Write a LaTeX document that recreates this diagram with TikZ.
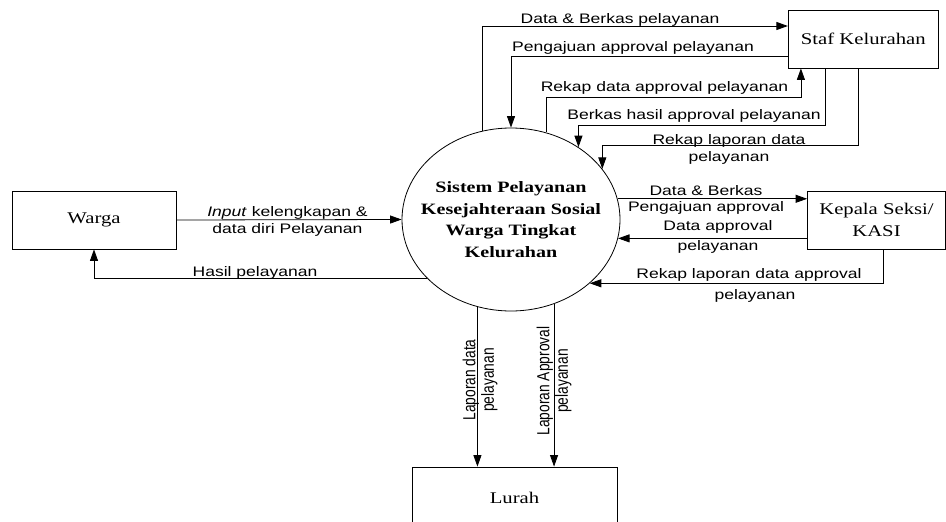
\documentclass[tikz,border=0pt]{standalone}
\usepackage{fontspec}
\usetikzlibrary{arrows.meta,shapes.geometric}
\newfontfamily\entfont{Liberation Serif}[FakeStretch=1.27]
\newfontfamily\lblfont{Liberation Sans}[FakeStretch=1.27]
\newfontfamily\rotfont{Liberation Sans}

\begin{document}
\begin{tikzpicture}[x=1pt,y=-1pt,
  entity/.style={draw,line width=0.8pt,minimum height=58pt,inner sep=0pt,align=center,
    font=\entfont\fontsize{16.3}{21.5}\selectfont},
  proses/.style={draw,ellipse,line width=0.8pt,minimum width=218pt,minimum height=183pt,
    inner xsep=-20pt,inner ysep=0pt,align=center,font=\entfont\bfseries\fontsize{15.8}{21.5}\selectfont},
  flow/.style={draw,line width=0.8pt,-{Triangle[length=11.5pt,width=8pt]}},
  lbl/.style={inner sep=0pt,align=center,font=\lblfont\fontsize{13.8}{16.5}\selectfont},
  rotlbl/.style={inner sep=0pt,align=center,rotate=90,yscale=1.27,
    font=\rotfont\fontsize{13.8}{14.6}\selectfont}]

\useasboundingbox (0,0) rectangle (946,522);

% Entities and process
\node[entity,minimum width=164pt] (warga) at (94,220) {Warga};
\node[entity,minimum width=150pt] (staf) at (863.3,39) {Staf Kelurahan};
\node[entity,minimum width=138pt] (kasi) at (876.5,220) {Kepala Seksi/\\KASI};
\node[entity,minimum width=205pt,minimum height=62pt] (lurah) at (514.5,498) {Lurah};
\node[proses] (proc) at (511,219.5) {Sistem Pelayanan\\Kesejahteraan Sosial\\Warga Tingkat\\Kelurahan};

% Flows with Staf Kelurahan
\draw[flow] (proc.108.8) |- ([yshift=13pt]staf.west);
\draw[flow] ([yshift=-17pt]staf.west) -| (proc.north);
\draw[flow] (proc.68) |- ([xshift=13pt,yshift=-29pt]staf.south west) -- ([xshift=13pt]staf.south west);
\draw[flow] ([xshift=37pt]staf.south west) -- ++(0,57) -| (proc.47.1);
\draw[flow] ([xshift=70pt]staf.south west) -- ++(0,77) -| (proc.29.8);

% Flows with Warga
\draw[flow] (warga.east) -- (proc.west);
\draw[flow] (proc.215.7) -| (warga.south);

% Flows with Kepala Seksi
\draw[flow] (proc.11.5) -- (proc.11.5 -| kasi.west);
\draw[flow] (proc.350.5 -| kasi.west) -- (proc.350.5);
\draw[flow] ([xshift=7pt]kasi.south) |- (proc.321);

% Flows to Lurah
\foreach \a in {249.9,297.1}{
    \draw[flow] (proc.\a) -- (proc.\a |- lurah.north);
}

% Flow labels
\node[lbl] (l1) at (620,20) {Data \& Berkas pelayanan};
\node[lbl] (l2) at (633,48) {Pengajuan approval pelayanan};
\node[lbl] (l3) at (664.5,88) {Rekap data approval pelayanan};
\node[lbl] (l4) at (694,116) {Berkas hasil approval pelayanan};
\node[lbl] (l5) at (729,149.5) {Rekap laporan data\\pelayanan};
\node[lbl] (l6) at (287.5,221.3) {\textit{Input} kelengkapan \&\\data diri Pelayanan};
\node[lbl] (l7) at (255,273.2) {Hasil pelayanan};
\node[lbl] (l8) at (706,199.8) {Data \& Berkas\\Pengajuan approval};
\node[lbl] (l9) at (718,236.5) {Data approval\\[3.5pt]pelayanan};
\node[lbl] (l10) at (749,285) {Rekap laporan data approval\\[4.5pt]\hspace*{12pt}pelayanan};
\node[rotlbl] (l11) at (480,380) {Laporan data\\pelayanan};
\node[rotlbl] (l12) at (554,381) {Laporan Approval\\pelayanan};

\end{tikzpicture}
\end{document}
